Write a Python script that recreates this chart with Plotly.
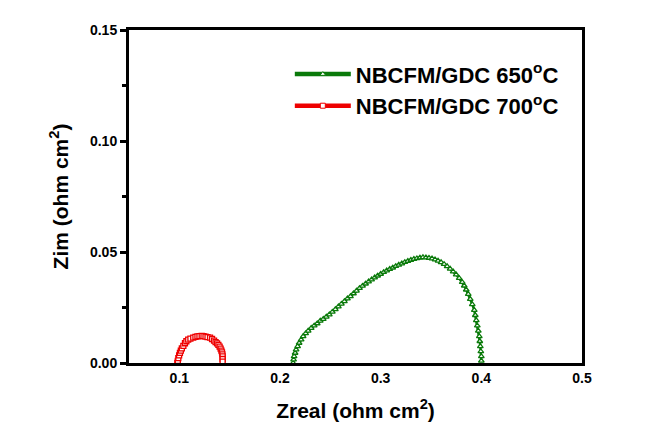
import plotly.graph_objects as go

# impedance data (ohm cm2)
zreal_650 = [0.213, 0.2135, 0.214, 0.215, 0.216, 0.2175, 0.219, 0.221, 0.223, 0.2255,
             0.228, 0.231, 0.234, 0.237, 0.240, 0.243, 0.246, 0.249, 0.252, 0.255,
             0.258, 0.261, 0.264, 0.267, 0.270, 0.273, 0.276, 0.279, 0.282, 0.285,
             0.288, 0.291, 0.294, 0.297, 0.300, 0.303, 0.306, 0.309, 0.312, 0.315,
             0.318, 0.321, 0.324, 0.327, 0.330, 0.333, 0.336, 0.339, 0.342, 0.345,
             0.348, 0.351, 0.354, 0.357, 0.360, 0.363, 0.366, 0.369, 0.372, 0.375,
             0.378, 0.381, 0.383, 0.385, 0.387, 0.389, 0.391, 0.393, 0.394, 0.395,
             0.396, 0.397, 0.398, 0.3985, 0.399, 0.3995, 0.400, 0.400]
zim_650 = [0.000, 0.0015, 0.003, 0.0045, 0.006, 0.0075, 0.009, 0.0105, 0.012, 0.0133,
           0.0145, 0.0157, 0.0168, 0.0178, 0.019, 0.0198, 0.0208, 0.0218, 0.023, 0.0242,
           0.0254, 0.0266, 0.0278, 0.029, 0.030, 0.0313, 0.0325, 0.0337, 0.0347, 0.0357,
           0.0367, 0.0376, 0.0385, 0.0393, 0.0401, 0.0409, 0.0416, 0.0423, 0.0429, 0.0436,
           0.0442, 0.0448, 0.0454, 0.0459, 0.0464, 0.0468, 0.0471, 0.0474, 0.0476, 0.0475,
           0.0473, 0.0470, 0.0466, 0.0460, 0.0453, 0.0445, 0.0435, 0.0424, 0.0412, 0.0398,
           0.0382, 0.0364, 0.0348, 0.0330, 0.0310, 0.0288, 0.0264, 0.0238, 0.0215, 0.0192,
           0.0168, 0.0145, 0.0120, 0.0098, 0.0075, 0.0052, 0.0030, 0.0010]

zreal_700 = [0.098, 0.0985, 0.099, 0.0998, 0.1006, 0.1015, 0.1025, 0.104, 0.1056, 0.107,
             0.1088, 0.111, 0.1138, 0.116, 0.118, 0.120, 0.1222, 0.124, 0.126, 0.128,
             0.1305, 0.1325, 0.1345, 0.136, 0.1375, 0.1388, 0.140, 0.141, 0.1418, 0.1424,
             0.1428, 0.143, 0.143, 0.143]
zim_700 = [0.000, 0.0010, 0.0022, 0.0034, 0.0046, 0.0056, 0.0066, 0.0077, 0.0089, 0.0098,
           0.0105, 0.011, 0.0114, 0.0118, 0.0120, 0.0121, 0.0122, 0.0121, 0.0119, 0.0117,
           0.0114, 0.0108, 0.0101, 0.0094, 0.0088, 0.0082, 0.0074, 0.0065, 0.0056, 0.0048,
           0.0039, 0.0030, 0.0018, 0.0006]

x_ticks = [0.1, 0.2, 0.3, 0.4, 0.5]
y_ticks = [0.0, 0.05, 0.10, 0.15]

green = '#0a7a0a'
red = '#ee0000'
font_family = "Liberation Sans, Arial, sans-serif"

fig = go.Figure()

fig.add_trace(go.Scatter(
    x=zreal_650, y=zim_650,
    mode='lines+markers',
    showlegend=False,
    line=dict(color=green, width=2.5),
    marker=dict(symbol='triangle-up', size=5, color='white',
                line=dict(color=green, width=1.3))
))

fig.add_trace(go.Scatter(
    x=zreal_700, y=zim_700,
    mode='lines+markers',
    showlegend=False,
    line=dict(color=red, width=2.5),
    marker=dict(symbol='square', size=5, color='white',
                line=dict(color=red, width=1.3))
))

# legend entries with the thicker sample line of the original
for name, color, symbol in [('NBCFM/GDC 650<sup>o</sup>C', green, 'triangle-up'),
                            ('NBCFM/GDC 700<sup>o</sup>C', red, 'square')]:
    fig.add_trace(go.Scatter(
        x=[None], y=[None],
        mode='lines+markers',
        name='<b>' + name + '</b>',
        line=dict(color=color, width=4.5),
        marker=dict(symbol=symbol, size=5, color='white',
                    line=dict(color=color, width=1))
    ))

# the page body adds an 8px margin, so the figure is shifted by that
fig.update_layout(
    width=644,
    height=440,
    margin=dict(l=121, r=70, t=22, b=85),
    plot_bgcolor='white',
    paper_bgcolor='white',
    font=dict(family=font_family, color='black'),
    legend=dict(
        x=0.355, y=0.93,
        xanchor='left', yanchor='top',
        bgcolor='rgba(0,0,0,0)',
        font=dict(size=22, family=font_family),
        itemwidth=56,
        tracegroupgap=0
    ),
    xaxis=dict(
        range=[0.05, 0.5],
        tickvals=x_ticks,
        ticktext=['<b>%g</b>' % v for v in x_ticks],
        ticks='',
        showgrid=False,
        zeroline=False,
        showline=True, linecolor='black', linewidth=3, mirror=True,
        tickfont=dict(size=14),
        title=dict(text='<b>Zreal (ohm cm<sup>2</sup>)</b>', font=dict(size=21), standoff=19)
    ),
    yaxis=dict(
        range=[0, 0.15],
        tickvals=y_ticks,
        ticktext=['<b>%.2f</b>' % v for v in y_ticks],
        ticks='outside', ticklen=6, tickwidth=3, tickcolor='black',
        minor=dict(ticks='outside', dtick=0.025, ticklen=4, tickwidth=3, tickcolor='black'),
        showgrid=False,
        zeroline=False,
        showline=True, linecolor='black', linewidth=3, mirror=True,
        tickfont=dict(size=14),
        title=dict(text='<b>Zim (ohm cm<sup>2</sup>)</b>', font=dict(size=21), standoff=16)
    )
)

fig.write_html("out.html")
